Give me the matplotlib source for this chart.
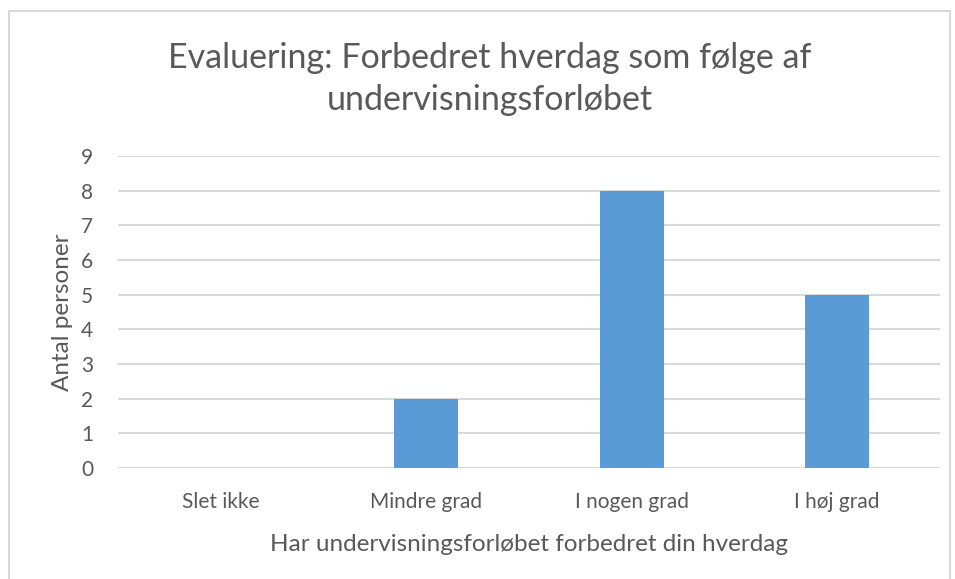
import matplotlib

matplotlib.use("Agg")
import matplotlib.pyplot as plt
from matplotlib.patches import Rectangle

CATEGORIES = ["Slet ikke", "Mindre grad", "I nogen grad", "I høj grad"]
COUNTS = [0, 2, 8, 5]
YTICKS = list(range(0, 10))
BLUE, GRID, TXT = "#5b9bd5", "#d9d9d9", "#595959"

plt.rcParams["font.family"] = ["Lato", "DejaVu Sans"]

fig = plt.figure(figsize=(9.55, 5.79), dpi=100)
# chart-area border (bottom edge falls outside the image, as in the reference)
fig.patches.append(Rectangle((9 / 955, -0.02), 941 / 955, 1.02 - 11 / 579, transform=fig.transFigure,
                             fill=False, edgecolor=GRID, lw=1.5))
ax = fig.add_axes([118 / 955, 1 - 468 / 579, 822 / 955, 312 / 579])

x = range(len(CATEGORIES))
ax.bar(x, COUNTS, width=0.31, color=BLUE, zorder=3)
ax.set_xlim(-0.5, len(CATEGORIES) - 0.5)
ax.set_ylim(0, 9)
ax.set_yticks(YTICKS)
ax.set_xticks(list(x))
ax.set_xticklabels(CATEGORIES)
ax.yaxis.grid(True, color=GRID, lw=1.5, zorder=0)
for s in ax.spines.values():
    s.set_visible(False)
ax.axhline(0, color=GRID, lw=1.5, zorder=2)
ax.tick_params(length=0, labelsize=15, colors=TXT)
ax.tick_params(axis="x", pad=17)
ax.tick_params(axis="y", pad=18)
ax.set_ylabel("Antal personer", fontsize=17.5, color=TXT, labelpad=6)
ax.set_xlabel("Har undervisningsforløbet forbedret din hverdag", fontsize=17.5, color=TXT, labelpad=16)

fig.text(490 / 955, 1 - 79 / 579, "Evaluering: Forbedret hverdag som følge af\nundervisningsforløbet",
         ha="center", va="center", fontsize=24.5, color=TXT, linespacing=1.35)

fig.savefig("out.png", dpi=100)
